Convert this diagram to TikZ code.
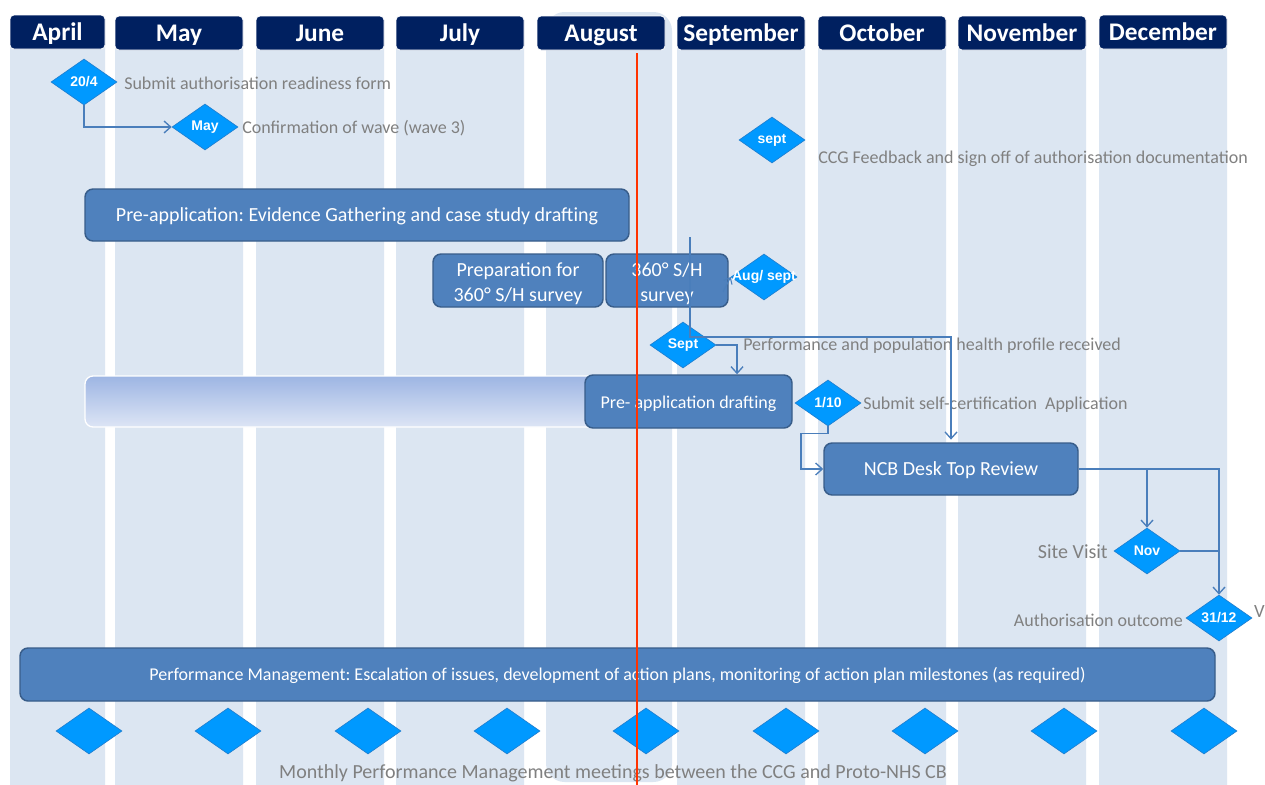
\documentclass[tikz,border=0pt]{standalone}
\usepackage{fontspec}
\setmainfont{Carlito}
\newfontfamily\arialfont{Liberation Sans}
\usetikzlibrary{shapes.geometric,arrows.meta,calc}
\definecolor{navy}{HTML}{002060}
\definecolor{colbg}{HTML}{DCE6F2}
\definecolor{diablue}{HTML}{0099FF}
\definecolor{diaborder}{HTML}{1F7FD0}
\definecolor{boxblue}{HTML}{4F81BD}
\definecolor{boxborder}{HTML}{385D8A}
\definecolor{lineblue}{HTML}{4A7EBB}
\definecolor{graytxt}{HTML}{808080}
\definecolor{redline}{HTML}{FF3300}
\definecolor{grtop}{HTML}{9DB5E3}
\definecolor{grbot}{HTML}{DDE5F5}
\tikzset{
  colbar/.style={fill=colbg,draw=none,rounded corners=9pt},
  hdr/.style={fill=navy,draw=white,line width=0.6pt,rounded corners=3pt,text=white,
    font=\bfseries\fontsize{19}{21}\selectfont,minimum height=25.5pt,inner sep=0pt,
    text height=13pt,text depth=0pt},
  diatxt/.style={text=white,font=\arialfont\bfseries\fontsize{10.5}{12}\selectfont,inner sep=0pt},
  dia/.style={diamond,fill=diablue,draw=diaborder,line width=0.5pt,inner sep=0pt,
    minimum width=49.5pt,minimum height=34.5pt,label={[diatxt]center:#1}},
  dia/.default={},
  box/.style={fill=boxblue,draw=boxborder,line width=1.1pt,rounded corners=6pt,text=white,
    font=\fontsize{15}{18.75}\selectfont,align=center,inner sep=0pt},
  box1/.style={box,text height=13pt,text depth=3pt},
  lbl/.style={text=graytxt,font=\fontsize{13.5}{16}\selectfont,inner sep=0pt,yshift=-1.5pt},
  conn/.style={draw=lineblue,line width=1pt,-{Straight Barb[length=5pt,width=9pt,line width=1pt]}},
  plain/.style={draw=lineblue,line width=1pt},
}
\begin{document}
\frenchspacing
\begin{tikzpicture}[x=0.75pt,y=-0.75pt]
\useasboundingbox (0,0) rectangle (1265,785);
\fill[white] (0,0) rectangle (1265,785);
% columns
\fill[colbar] (10,24) rectangle (105,798);
\fill[colbar] (115,24) rectangle (243,798);
\fill[colbar] (256,24) rectangle (384,798);
\fill[colbar] (396,24) rectangle (524,798);
\fill[colbar,rounded corners=14pt] (546,12) rectangle (672,782);
\fill[colbar] (677,24) rectangle (805,798);
\fill[colbar] (818,24) rectangle (946,798);
\fill[colbar] (958,24) rectangle (1086,798);
\fill[colbar] (1099,24) rectangle (1227,798);
% headers
\node[hdr,minimum width=71.25pt] (hapr) at (57.5,32) {April};
\node[hdr,minimum width=96pt] (hmay) at (179,33) {May};
\node[hdr,minimum width=96pt] (hjun) at (320,33) {June};
\node[hdr,minimum width=96pt] (hjul) at (460,33) {July};
\node[hdr,minimum width=96pt] (haug) at (601,33) {August};
\node[hdr,minimum width=96pt] (hsep) at (741,33) {September};
\node[hdr,minimum width=96pt] (hoct) at (882,33) {October};
\node[hdr,minimum width=96pt] (hnov) at (1022,33) {November};
\node[hdr,minimum width=96pt] (hdec) at (1163,32) {December};
% bars
\node[box1,minimum width=408pt,minimum height=39pt] (pre) at (357,215) {Pre-application: Evidence Gathering and case study drafting};
\node[box,minimum width=127.5pt,minimum height=39.75pt] (prep) at (518,280.5) {\rule{0pt}{15.8pt}Preparation for\\360° S/H survey};
\node[box,minimum width=91.5pt,minimum height=39.75pt] (sh) at (667,280.5) {\rule{0pt}{15.8pt}360° S/H\\survey};
\path[draw=white,line width=1pt,rounded corners=6pt,top color=grtop,bottom color=grbot] (85,376) rectangle (600,427);
\node[box1,minimum width=155.25pt,minimum height=39.75pt,font=\fontsize{13.5}{16}\selectfont] (pad) at (688.5,401.5) {Pre- application drafting};
\node[box1,minimum width=190.5pt,minimum height=39pt] (ncb) at (951,469) {NCB Desk Top Review};
\node[box1,minimum width=896.25pt,minimum height=39.75pt,font=\fontsize{13.5}{16}\selectfont,text height=12pt] (pm) at (617.5,674.5) {Performance Management: Escalation of issues, development of action plans, monitoring of action plan milestones (as required)};
% diamonds
\node[dia=20/4] (d204) at (84,82) {};
\node[dia=May] (dmay) at (205,127) {};
\node[dia=sept] (dsep) at (772,140) {};
\node[dia=Aug/ sept] (daug) at (764,277) {};
\node[dia=Sept] (dsept) at (683,345) {};
\node[dia=1/10] (d110) at (828,403) {};
\node[dia=Nov] (dnov) at (1147,551) {};
\node[dia=31/12] (d3112) at (1219,618) {};
\foreach \i/\xx in {1/89,2/228,3/368,4/507,5/646,6/786,7/925,8/1064,9/1204}{
  \node[dia] (m\i) at (\xx,731) {};
}
% labels
\node[lbl,anchor=west] (l1) at (124,81) {Submit authorisation readiness form};
\node[lbl,anchor=west] (l2) at (242,126) {Confirmation of wave (wave 3)};
\node[lbl,anchor=west] (l3) at (818,157) {CCG Feedback and sign off of authorisation documentation};
\node[lbl,anchor=west] (l4) at (743,344) {Performance and population health profile received};
\node[lbl,anchor=west] (l5) at (863,403) {Submit self-certification\ \ Application};
\node[lbl,anchor=east,font=\fontsize{15}{18}\selectfont] (l6) at (1108,550) {Site Visit};
\node[lbl,anchor=east] (l7) at (1183,618) {Authorisation outcome};
\node[lbl,font=\fontsize{15}{18}\selectfont] (l8) at (613,771) {Monthly Performance Management meetings between the CCG and Proto-NHS CB};
\node[lbl,anchor=east,font=\fontsize{14}{17}\selectfont] (l9) at (1265,610) {V};
% connectors
\draw[conn] (d204.south) |- (dmay.west);
\coordinate (c1) at (690,237);
\coordinate (c2) at (690,337);
\draw[conn,shorten >=2pt] (c1) -- (c2) -| (ncb.north);
\draw[conn] (dsept.east) -| ([xshift=36.4pt]pad.north);
\draw[conn] (d110.south) -- ++(0,7) -- ++(-27,0) |- (ncb.west);
\draw[conn] (ncb.east) -| (d3112.north);
\draw[conn] (ncb.east -| dnov.north) -- (dnov.north);
\draw[plain] (dnov.east) -- (dnov.east -| d3112.north);
\coordinate (c3) at (723,292);
\draw[conn,-{Straight Barb[length=4pt,width=7pt,line width=0.8pt]},line width=0.8pt] (c3) -- (daug.west);
% red line
\coordinate (r1) at (637,53);
\coordinate (r2) at (637,785);
\draw[redline,line width=2pt] (r1) -- (r2);
\end{tikzpicture}
\end{document}
